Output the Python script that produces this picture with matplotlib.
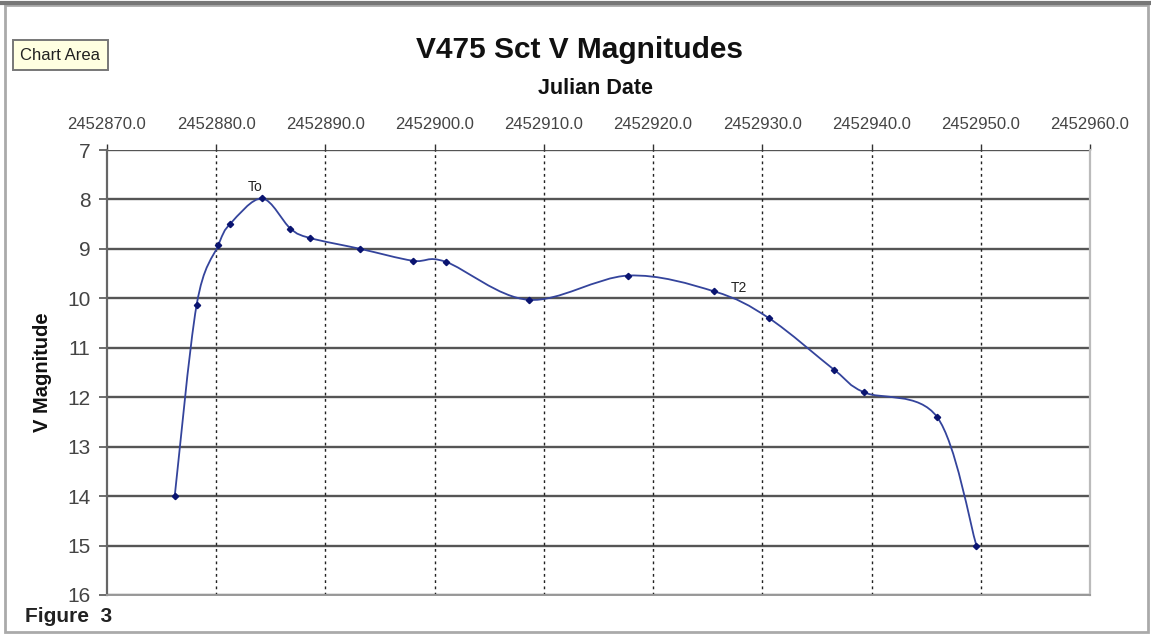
import matplotlib
matplotlib.use('Agg')
import matplotlib.pyplot as plt
import numpy as np
from matplotlib.path import Path
from matplotlib.patches import PathPatch, Rectangle
from matplotlib.lines import Line2D

plt.rcParams['font.family'] = ['Liberation Sans', 'DejaVu Sans']

julian_date = [2452876.2, 2452878.2, 2452880.2, 2452881.3, 2452884.2, 2452886.8,
               2452888.6, 2452893.2, 2452898.0, 2452901.0, 2452908.6, 2452917.7,
               2452925.6, 2452930.6, 2452936.6, 2452939.3, 2452946.0, 2452949.6]
v_mag = [14.0, 10.14, 8.92, 8.49, 7.98, 8.59,
         8.78, 9.0, 9.24, 9.26, 10.03, 9.54,
         9.86, 10.4, 11.45, 11.9, 12.4, 15.0]

x_ticks = [2452870, 2452880, 2452890, 2452900, 2452910, 2452920, 2452930,
           2452940, 2452950, 2452960]
x_tick_labels = ['{:.1f}'.format(t) for t in x_ticks]
y_ticks = list(range(7, 17))

# annotations: (text, jd, mag)
notes = [('To', 2452883.6, 7.75), ('T2', 2452927.9, 9.8)]


def smooth_path(xs, ys):
    # Excel-style smoothed line: cubic bezier through the points (Catmull-Rom)
    pts = np.column_stack([xs, ys])
    n = len(pts)
    verts = [pts[0]]
    codes = [Path.MOVETO]
    for i in range(n - 1):
        p0 = pts[i - 1] if i > 0 else pts[i]
        p1 = pts[i]
        p2 = pts[i + 1]
        p3 = pts[i + 2] if i + 2 < n else pts[i + 1]
        c1 = p1 + (p2 - p0) / 6.0
        c2 = p2 - (p3 - p1) / 6.0
        verts += [c1, c2, p2]
        codes += [Path.CURVE4] * 3
    return Path(verts, codes)


fig = plt.figure(figsize=(11.51, 6.35), dpi=100)
fig.patch.set_facecolor('white')
ax = fig.add_axes([107 / 1151, 1 - 595 / 635, (1090 - 107) / 1151, (595 - 150) / 635])

ax.set_xlim(2452870, 2452960)
ax.set_ylim(16, 7)

# grid
for y in y_ticks:
    ax.axhline(y, color='#555555', lw=1.7, zorder=1)
for x in x_ticks[1:-1]:
    ax.axvline(x, color='#222222', lw=1.0, ls=(0, (2, 2.5)), zorder=1)

# data
ax.add_patch(PathPatch(smooth_path(julian_date, v_mag), facecolor='none',
                       edgecolor='#34449c', lw=1.3, zorder=3))
ax.plot(julian_date, v_mag, ls='none', marker='D', ms=3.2, color='#0a1470', zorder=4)

for txt, x, y in notes:
    ax.text(x, y, txt, fontsize=10, color='#222222', ha='center', va='center')

# axes
ax.xaxis.tick_top()
ax.set_xticks(x_ticks)
ax.set_xticklabels(x_tick_labels)
ax.set_yticks(y_ticks)
ax.tick_params(axis='x', which='both', length=4, width=1, color='#333333',
               labelsize=12, labelcolor='#444444', pad=9)
ax.tick_params(axis='y', length=6, width=1.2, color='#555555',
               labelsize=15, labelcolor='#444444', pad=6)
ax.spines['left'].set_color('#666666')
ax.spines['left'].set_linewidth(1.6)
ax.spines['bottom'].set_color('#999999')
ax.spines['bottom'].set_linewidth(1.4)
ax.spines['right'].set_color('#bbbbbb')
ax.spines['right'].set_linewidth(1.6)
ax.spines['top'].set_visible(False)

fig.text(42 / 1151, 1 - 372 / 635, 'V Magnitude', fontsize=14.5, fontweight='bold',
         rotation=90, ha='center', va='center', color='#111111')
fig.text(580 / 1151, 1 - 50 / 635, 'V475 Sct V Magnitudes', fontsize=21.5, fontweight='bold',
         ha='center', va='center', color='#111111')
fig.text(596 / 1151, 1 - 88 / 635, 'Julian Date', fontsize=15.5, fontweight='bold',
         ha='center', va='center', color='#111111')
fig.text(25 / 1151, 1 - 616 / 635, 'Figure  3', fontsize=15, fontweight='bold',
         ha='left', va='center', color='#222222')

# "Chart Area" tooltip
fig.text(20 / 1151, 1 - 55 / 635, 'Chart Area', fontsize=12, ha='left', va='center',
         color='#222222',
         bbox=dict(boxstyle='square,pad=0.45', facecolor='#ffffe1', edgecolor='#777777', lw=1.4))

# outer frame
fig.patches.append(Rectangle((5 / 1151, 3 / 635), 1143 / 1151, 627 / 635, transform=fig.transFigure,
                             fill=False, edgecolor='#aaaaaa', lw=2))
fig.lines.append(Line2D([0, 1], [1 - 3 / 635, 1 - 3 / 635], transform=fig.transFigure,
                        color='#777777', lw=3))

plt.savefig('out.png', dpi=100)
